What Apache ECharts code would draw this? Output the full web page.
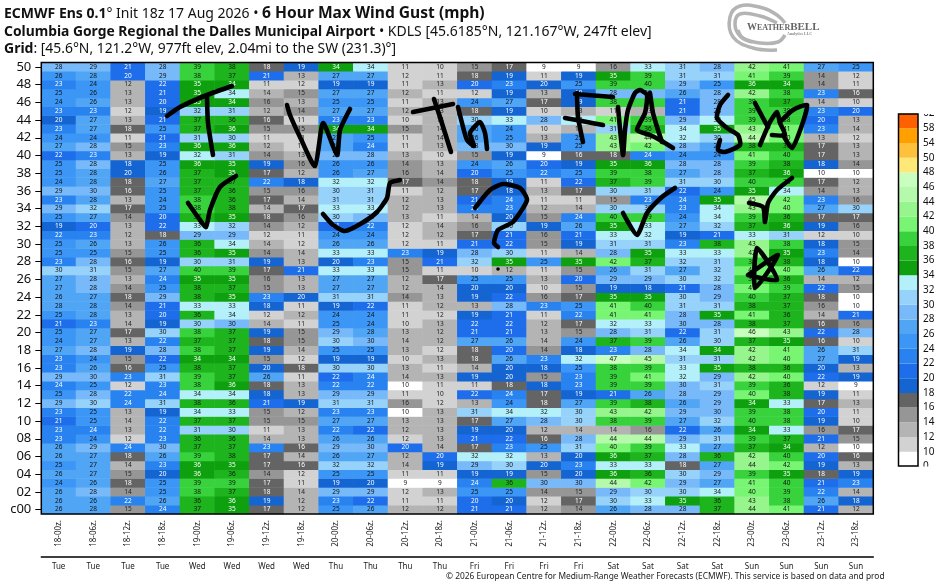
<!DOCTYPE html>
<html><head><meta charset="utf-8">
<style>html,body{margin:0;padding:0;background:#fff}#c{width:944px;height:586px}</style>
<script src="https://cdn.jsdelivr.net/npm/echarts@6/dist/echarts.min.js"></script>
</head><body><div id="c"></div>
<script>
const timeLabels=['18-00z.','18-06z.','18-12z.','18-18z.','19-00z.','19-06z.','19-12z.','19-18z.','20-00z.','20-06z.','20-12z.','20-18z.','21-00z.','21-06z.','21-12z.','21-18z.','22-00z.','22-06z.','22-12z.','22-18z.','23-00z.','23-06z.','23-12z.','23-18z.'];
const dayLabels=['Tue','Tue','Tue','Tue','Wed','Wed','Wed','Wed','Thu','Thu','Thu','Thu','Fri','Fri','Fri','Fri','Sat','Sat','Sat','Sat','Sun','Sun','Sun','Sun'];
const memberLabels=['c00','01','02','03','04','05','06','07','08','09','10','11','12','13','14','15','16','17','18','19','20','21','22','23','24','25','26','27','28','29','30','31','32','33','34','35','36','37','38','39','40','41','42','43','44','45','46','47','48','49','50'];
const binEdges=[0,10,12,14,16,18,20,22,24,26,28,30,32,34,36,38,40,42,44,46,48,50,54,58,62];
const binColors=['#ffffff','#d2d2d2','#b4b4b4','#969696','#646464','#1464d2','#1e6eeb','#2882f0','#3c96f5','#50a5f5','#78b9fa','#96d2fa','#b4f0fa','#0fa00f','#1eb41e','#37d23c','#78f572','#96f58c','#b4faaa','#c8ffbe','#ffe878','#ffc03c','#ffa000','#ff6000'];
const r50=[28,29,21,28,39,37.8,17.8,19,34,33.8,11,10,15,17,9,9,15.8,33,31,28,42,41,27,25];
const r49=[25.8,27.8,20,29,38,37,21,13,27,27,11.8,11,17.8,19,11,19,35,39,31,31,41,39,14,11.8];
const r48=[23,24,12,21.8,35,34,11,11.8,19,19,11,13,20,23,19.8,25,39,39.8,29,25,35.8,34,14,11];
const r47=[25,25.8,13,21,35,33.8,13.8,15,27,27,12,11,11.8,19,13,19,28,29,26,28,42,38,23,16];
const r46=[24,26,13,20,35,34,15.8,13,25,25,11,13,24,27,17,19,38,39,21,28,39,37,13.8,10];
const r45=[23,23,11.8,19,31.8,31,12,14,27,27,12,13,17.8,19,10,13,11,13,21,28,39,38,23,20];
const r44=[19.8,27,13,21,37,36,16,11,23,23,10,13,30,33,28,33,41,39,29,33,39,38,20,13];
const r43=[23,27,17.8,25,37,35.8,15,15,34,34,15,13.8,26,24,10,13,31,36,33.8,35,43,41,23,13.8];
const r42=[24,24,11,21,31,30,11,11,27,25,11,13.8,26,25,13,25,43,44,32,30,44,40,13,11.8];
const r41=[27,28,15,23,35.8,35.8,12,11,27,23.8,11,13,28,29.8,19,25,43,41.8,28,26,37.8,36,17,13];
const r40=[21.8,23,13,19,32,31,14,13,28,28,13,10,15,19,9,16,17.8,23.8,24,24,41,39.8,17,13];
const r39=[25,28,18,25,35.8,35,19,15.8,25.8,25.8,14,13,24,26,20,19,35,35.8,28,28,39,37.8,18,14];
const r38=[25,27.8,19.8,25.8,37,35,17,12,25.8,27,15.8,13.8,20,25,22,25,39,38,27,28,37,35.8,9.8,9.8];
const r37=[24,27.8,17.8,27,37,37,22,18,32,32,17,14,17.8,19,11,21.8,37,39,31,30,39.8,38,17,12];
const r36=[29,29.8,16,25,37,36,15,15.8,30,31,11,12,17,18,13,17,30,31,21.8,24,35,33.8,14,13];
const r35=[23,27.8,13,24,38,36,17,13.8,31,31,12,13,21,23.8,11,11,15,23,23.8,35,45,41.8,23,15.8];
const r34=[29,31.8,17,25,38,37.8,13.8,17,33,33,12,13,23,23,12,13.8,30,30,23,33.8,43,40,27,30];
const r33=[25,27,14,20,37,35,17.8,15.8,30,29,13,11,13.8,19.8,15,23.8,39.8,39,24,33.8,39,36,17,17];
const r32=[19,20,13,21.8,33,31.8,14,12,21,22,11.8,13.8,15.8,30,19,26,35,33,27,31.8,37,35.8,19,15.8];
const r31=[22,23,12,17.8,29,29,11.8,11,24,24,11.8,12,17,21,15.8,21,33,32,19,21,33,31,11.8,10];
const r30=[25,26,13,25.8,36,33.8,13.8,11.8,26,26,11.8,11,21,21.8,15,19,31,31,23,37.8,43,38,18,15];
const r29=[25,25,15,25,36,35,14,13.8,33,33,23,19,28,30,11,13.8,28,35,33,33,42,35,23,14];
const r28=[23,28,16,19,30,31,19,13,19.8,23,15,21,31.8,35,25,35,41.8,37,31.8,31,38,37.8,18,9.8];
const r27=[30,31,15,27,39.8,39,17,21,33,33,15,11,10,12,11,15,26,31,27,31.8,41,40,26,21.8];
const r26=[27,28,13,23.8,35,35,15.8,13,27,27,12,17,25,25,13,20,29,29,30,31.8,38,36,13.8,12];
const r25=[27,28,14,25,37.8,37,15,13,27,27,12,13.8,19.8,19.8,10,15,19,18,21,28,41,39,21.8,15];
const r24=[26,27,17.8,29,37.8,35,23,19.8,31,31,14,13,19,21.8,15.8,17,35,35,30,29,39.8,37,17.8,9.8];
const r23=[27.8,27.8,14,21,33,33,18,11,19,21.8,11,12,13,28,23,25,41,39.8,31,31,37.8,37,15.8,9.8];
const r22=[25,27.8,13,20,36,33.8,11.8,12,24,24,11,11.8,19,21,11,22,41,41,28,35,41,36,13.8,21];
const r21=[21,23,13.8,19,30,29.8,13.8,11,25,24,10,13,21.8,21.8,12,17,32,33,29.8,28,37.8,37,16,15.8];
const r20=[25,27,17,30,38,37,19,15,29,27.8,13,12,21,21,13,15,28,31,21.8,31,46,43,21.8,28];
const r19=[24,27,13,22,37,37,17.8,15,30,29.8,13.8,12,27,26,13.8,24,37,39,26,30,37,35,16,10];
const r18=[27,28,19,28,38,37,19,13.8,25,25,13,11.8,17.8,20,14,18,23,28,33.8,34,42,41,26,31];
const r17=[23,24,15,21.8,34,34,15,11.8,19,19,10,13,17.8,26,23,32,47,45,31,31,42,40,27,19];
const r16=[23,26,16,25,37.8,37,19.8,17.8,30,30,13,11,13.8,19.8,18,25,38,39,33,35,37.8,36,19.8,13];
const r15=[29,29.8,23,31,39,37,26,11,21.8,23.8,13.8,13,19,19.8,15,23,39,41,32,29,42,40,21.8,19];
const r14=[23.8,25,11.8,23,38,35.8,17.8,13,22,22,9.8,11,11,17.8,18,23,39,39,29.8,31,39,36,11.8,9];
const r13=[25,28,22,23.8,33.8,33.8,18,13,29,29,11,10,21.8,23.8,17,19,21,26,28,29,40,37.8,19,11];
const r12=[29,30,23.8,31,37.8,36,21,19,31,31,15.8,11.8,13,24,17.8,27,39,37.8,26,29,34,33,17,13];
const r11=[23,25,13,19,33.8,33,15,12,23,23,9.8,13,31,33.8,32,30,43,42,29,29.8,39,38,20,11];
const r10=[21,25,13.8,22,37,37,15,15,27,27,13,13,17,27,28,30,38,39,27,31.8,39.8,38,19,10];
const r09=[23,23.8,13,22,31,30,11,13,22,21.8,12,13,19,19.8,12,13.8,13.8,15.8,21.8,26,34,33,15.8,17];
const r08=[23,24,11.8,23,36,36,13.8,13,26,26,11.8,13,21,21.8,16,28,44,44,29,31,39,37,21,15];
const r07=[26,29,23.8,29.8,37,37,23,16,29,29.8,20,13.8,17,23,25,31,40,39,33,27,37,34,12,9.8];
const r06=[26,27,17.8,26,39,37.8,17,13.8,26,27,12,20,32,32,13,19.8,35.8,37,28,36,42,39.8,20,16];
const r05=[25,27,13.8,23,35.8,35,17,16,31.8,31.8,13.8,19,29,30,19.8,23,33,33,17.8,27,43.8,41.8,19,13];
const r04=[26,27,15,19.8,35.8,36,14,11.8,25,25,11,11,19,19,15,19.8,35.8,36,30,29,39,35,17.8,19];
const r03=[24,26,17.8,25,39,39,17,11,19,19.8,9,9,23.8,36,29.8,29.8,44,41.8,29,27,41,39.8,21,23];
const r02=[26,28,14,25,38,37,17.8,13.8,29,29,11.8,13,25,25,14,15,29,30,30,33.8,40,39,22,13.8];
const r01=[26,26,22,26,36,35.8,19,12,23,21.8,11,11,20,19.8,11.8,17,30,33,35,36,43,38,26,18];
const r00=[26,27.8,15,23.8,37,35,17,12,25,26,12,12,21,21,12,14,26,28,28,37,43.8,41,21,12];
const memberRows=[r00,r01,r02,r03,r04,r05,r06,r07,r08,r09,r10,r11,r12,r13,r14,r15,r16,r17,r18,r19,r20,r21,r22,r23,r24,r25,r26,r27,r28,r29,r30,r31,r32,r33,r34,r35,r36,r37,r38,r39,r40,r41,r42,r43,r44,r45,r46,r47,r48,r49,r50];

const FONT='"Noto Sans"';
function labelColor(v){
  if(v<16) return '#222';
  if(v<24) return '#fff';
  if(v<34) return '#111';
  if(v<36) return '#fff';
  return '#111';
}
const cells=[];
memberRows.forEach((row,y)=>row.forEach((v,x)=>{
  cells.push({value:[x,y,v],label:{color:labelColor(v)}});
}));
const pieces=binColors.map((c,i)=>({gte:binEdges[i],lt:binEdges[i+1],color:c}));
const barCells=binColors.map((c,i)=>[i,c]);

// hand-drawn annotation strokes over the chart
const strokes=[
 [[167,116],[180,107],[207,95],[232,86]],
 [[207,97],[208,123],[213,155]],
 [[287,105],[290,115],[300,137],[315,166],[323,123],[337,155],[340,130],[350,109]],
 [[413,112],[453,104]],
 [[434,99],[440,117],[451,152]],
 [[458,107],[462,123],[467,140],[474,146],[470,133],[480,122],[485,133],[487,149]],
 [[577,93],[578,117],[583,142]],
 [[575,94],[613,97]],
 [[565,118],[587,122],[603,125]],
 [[618,107],[623,155],[625,130],[628,110],[635,93],[640,90],[647,95],[645,113],[637,130],[650,135],[660,140],[673,148]],
 [[650,93],[653,113],[658,130],[662,142]],
 [[728,95],[720,105],[717,118],[727,128],[738,135],[740,145],[725,152],[718,150],[720,140]],
 [[755,103],[763,118],[768,127]],
 [[760,145],[770,122],[777,112],[780,123],[785,135],[772,135]],
 [[780,122],[793,110],[807,105],[802,125],[792,148],[783,135]],
 [[188,203],[200,220],[206,227],[210,210],[220,187],[236,176]],
 [[323,214],[333,225],[345,231],[362,223],[377,212],[387,198],[390,183],[400,180]],
 [[475,208],[490,190],[503,184],[520,188],[527,200],[513,222],[498,230],[494,243],[498,247]],
 [[623,213],[637,235],[647,213],[662,197],[675,188]],
 [[749,203],[763,207],[765,222],[768,203],[777,190],[792,178]],
 [[748,275],[777,280],[757,248],[755,288],[778,255],[748,275]]
];
const logoArcs=[
 [[785,23],[777,15],[763,8],[740,6],[730,17],[733,37],[753,48],[777,50]],
 [[777,23],[760,16],[740,14],[735,24],[740,36],[752,42]],
 [[738,30],[743,38],[760,43],[778,42],[785,35]]
];
const graphic=[
 ...logoArcs.map(p=>({type:'polyline',z:1,shape:{points:p,smooth:0.4},style:{stroke:'#b4b4b4',lineWidth:3.5,fill:null}})),
 {type:'text',z:2,left:747,top:22,style:{rich:{a:{font:'bold 10px "Liberation Serif"',fill:'#666'},b:{font:'bold 8px "Liberation Serif"',fill:'#666'},c:{font:'bold 11px "Liberation Serif"',fill:'#666'}},text:'{a|W}{b|EATHER}{c|BELL}'}},
 {type:'text',z:2,left:787,top:32,style:{text:'Analytics LLC',font:'bold 4px "Liberation Serif"',fill:'#888'}},
 {type:'rect',z:50,shape:{x:41.3,y:62.5,width:832,height:451.5},style:{fill:null,stroke:'#000',lineWidth:1.5}},
 {type:'rect',z:50,shape:{x:898.5,y:114,width:19.5,height:352},style:{fill:null,stroke:'#000',lineWidth:1.5}},
 {type:'rect',z:60,shape:{x:919,y:100,width:25,height:14},style:{fill:'#fff'}},
 {type:'rect',z:60,shape:{x:919,y:466.5,width:25,height:14},style:{fill:'#fff'}},
 ...strokes.map(p=>({type:'polyline',z:70,shape:{points:p,smooth:0.2},style:{stroke:'#000',lineWidth:4.6,fill:null,lineCap:'round',lineJoin:'round'}})),
 {type:'circle',z:70,shape:{cx:498,cy:269,r:1.8},style:{fill:'#000'}},
 {type:'text',z:40,left:446,top:573,style:{text:'© 2026 European Centre for Medium-Range Weather Forecasts (ECMWF). This service is based on data and prod',font:'8.37px '+FONT,fill:'#222'}}
];
const t={fontFamily:FONT,fontSize:14,fontWeight:'normal',color:'#111'};
const b={fontFamily:FONT,fontSize:14,fontWeight:'bold',color:'#111'};
const bWide={fontFamily:FONT,fontSize:15.6,fontWeight:'bold',color:'#111'};
const bLine2={fontFamily:FONT,fontSize:13.85,fontWeight:'bold',color:'#111'};
const chart=echarts.init(document.getElementById('c'),null,{renderer:'canvas'});
chart.setOption({
 animation:false,backgroundColor:'#fff',
 title:[
  {left:4,top:6,padding:0,textStyle:{rich:{n:t,b:b,w:bWide},fontFamily:FONT,fontWeight:'normal'},text:'{b|ECMWF Ens 0.1}{n|° Init 18z 17 Aug 2026 • }{w|6 Hour Max Wind Gust (mph)}'},
  {left:4,top:25,padding:0,textStyle:{rich:{n:t,b:bLine2},fontFamily:FONT,fontWeight:'normal'},text:'{b|Columbia Gorge Regional the Dalles Municipal Airport}{n| • KDLS [45.6185°N, 121.167°W, 247ft elev]}'},
  {left:4,top:42,padding:0,textStyle:{rich:{n:{...t,fontSize:13.9},b:b},fontFamily:FONT,fontWeight:'normal'},text:'{b|Grid}{n|: [45.6°N, 121.2°W, 977ft elev, 2.04mi to the SW (231.3)°]}'}
 ],
 grid:[
  {left:41.3,top:62.5,width:832,height:451.5},
  {left:898.5,top:113.6,width:19.5,height:352.8}
 ],
 xAxis:[
  {gridIndex:0,type:'category',data:timeLabels,position:'bottom',axisTick:{show:false},axisLine:{show:false},splitLine:{show:false},
   axisLabel:{rotate:90,interval:0,margin:6,fontFamily:FONT,fontSize:8,color:'#222'}},
  {gridIndex:0,type:'category',data:dayLabels,position:'bottom',offset:43,axisTick:{show:false},axisLine:{show:true,lineStyle:{color:'#000',width:1.5}},splitLine:{show:false},
   axisLabel:{interval:0,margin:6,fontFamily:FONT,fontSize:8,color:'#222'}},
  {gridIndex:1,type:'value',min:0,max:1,show:false}
 ],
 yAxis:[
  {gridIndex:0,type:'category',data:memberLabels,axisLine:{show:false},splitLine:{show:false},
   axisTick:{show:true,length:6,interval:(i)=>i%2===0,alignWithLabel:true,lineStyle:{color:'#000',width:1}},
   axisLabel:{interval:(i)=>i%2===0,margin:10,fontFamily:FONT,fontSize:13,color:'#111'}},
  {gridIndex:1,type:'value',min:0,max:24,interval:1,position:'right',axisLine:{show:false},axisTick:{show:false},splitLine:{show:false},
   axisLabel:{margin:5,fontFamily:FONT,fontSize:10,color:'#111',formatter:v=>String(binEdges[v])}}
 ],
 visualMap:{show:false,type:'piecewise',seriesIndex:0,dimension:2,pieces},
 tooltip:{show:false},
 series:[
  {type:'heatmap',xAxisIndex:0,yAxisIndex:0,data:cells,progressive:0,
   label:{show:true,fontFamily:FONT,fontSize:6.5,formatter:p=>String(Math.round(p.value[2]))},itemStyle:{borderWidth:0}},
  {type:'custom',xAxisIndex:2,yAxisIndex:1,data:barCells,coordinateSystem:'cartesian2d',clip:true,
   renderItem:(params,api)=>{
     const i=api.value(0);
     const a=api.coord([0,i]),c=api.coord([1,i+1]);
     return {type:'rect',shape:{x:a[0],y:c[1],width:c[0]-a[0],height:a[1]-c[1]},style:{fill:binColors[i]}};
   }}
 ],
 graphic
});
</script></body></html>
